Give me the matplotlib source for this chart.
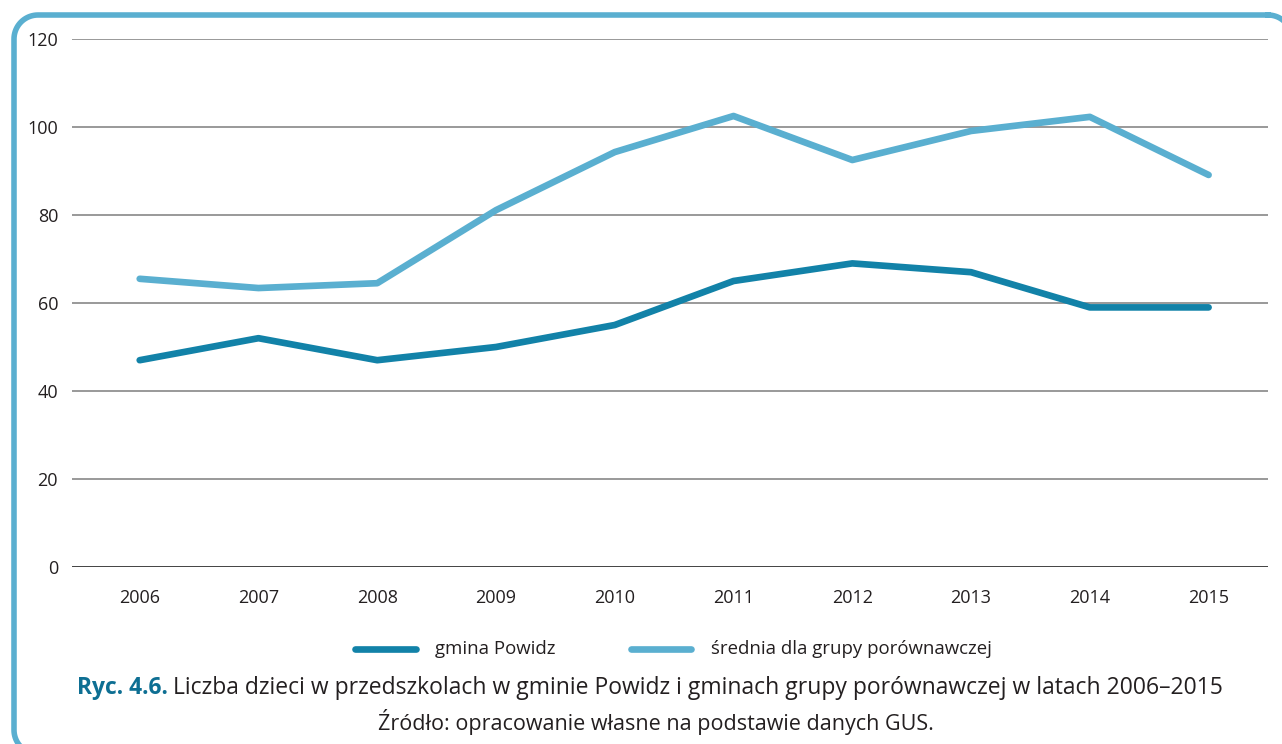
import math
import matplotlib
matplotlib.use("Agg")
import matplotlib.pyplot as plt
from matplotlib.lines import Line2D

years = ["2006", "2007", "2008", "2009", "2010", "2011", "2012", "2013", "2014", "2015"]
powidz = [47, 52, 47, 50, 55, 65, 69, 67, 59, 59]
srednia = [65.5, 63.4, 64.5, 81.1, 94.3, 102.5, 92.5, 99.1, 102.3, 89.1]
yticks = [0, 20, 40, 60, 80, 100, 120]

dark = "#1282a8"
light = "#5aafd0"
text_c = "#231f20"
plt.rcParams['font.family'] = ['Open Sans', 'DejaVu Sans']

W, H = 1282, 744
fig = plt.figure(figsize=(W / 100, H / 100), dpi=100)

# rounded frame in pixel coordinates
bg = fig.add_axes([0, 0, 1, 1])
bg.set_xlim(0, W)
bg.set_ylim(H, 0)
bg.axis("off")
L, T, R, B, r = 14, 15, 1292, 754, 24
corners = [(R - r, T + r, -90, 0), (R - r, B - r, 0, 90), (L + r, B - r, 90, 180), (L + r, T + r, 180, 270)]
fx_, fy_ = [], []
for cx, cy, a0, a1 in corners:
    for i in range(21):
        a = math.radians(a0 + (a1 - a0) * i / 20)
        fx_.append(cx + r * math.cos(a))
        fy_.append(cy + r * math.sin(a))
fx_.append(fx_[0]); fy_.append(fy_[0])
bg.plot(fx_, fy_, color=light, lw=4, clip_on=False, solid_joinstyle="round")

ax = fig.add_axes([72 / W, (H - 567) / H, (1268 - 72) / W, (567 - 39) / H])
x = list(range(len(years)))
ax.plot(x, powidz, color=dark, lw=4.8, solid_capstyle="round", solid_joinstyle="round", zorder=3)
ax.plot(x, srednia, color=light, lw=4.8, solid_capstyle="round", solid_joinstyle="round", zorder=3)
ax.set_ylim(0, 120)
ax.set_xlim(-0.57, 9.5)
ax.set_yticks(yticks)
for t in yticks:
    ax.axhline(t, color="#222222" if t == 0 else "#888888", lw=1.2, zorder=1)
ax.set_xticks(x)
ax.set_xticklabels(years)
ax.tick_params(length=0, labelsize=13, colors=text_c)
ax.tick_params(axis="x", pad=16)
ax.tick_params(axis="y", pad=10)
for s in ax.spines.values():
    s.set_visible(False)
ax.set_facecolor("none")

# legend
def fx(px): return px / W
def fy(py): return 1 - py / H
fig.add_artist(Line2D([fx(355), fx(416)], [fy(649), fy(649)], color=dark, lw=4.8, solid_capstyle="round"))
fig.text(fx(435), fy(649), "gmina Powidz", fontsize=13.4, va="center", color=text_c)
fig.add_artist(Line2D([fx(631), fx(691)], [fy(649), fy(649)], color=light, lw=4.8, solid_capstyle="round"))
fig.text(fx(711), fy(649), "średnia dla grupy porównawczej", fontsize=13.4, va="center", color=text_c)

# caption
cap_y = fy(688)
t1 = fig.text(fx(77), cap_y, "Ryc. 4.6.", fontsize=16.5, fontweight="bold", color="#0e6f93", va="center")
fig.canvas.draw()
bb = t1.get_window_extent()
fig.text((bb.x1 + 5) / W, cap_y,
         "Liczba dzieci w przedszkolach w gminie Powidz i gminach grupy porównawczej w latach 2006–2015",
         fontsize=16.5, color=text_c, va="center")
fig.text(fx(656), fy(722), "Źródło: opracowanie własne na podstawie danych GUS.",
         fontsize=15.5, color=text_c, va="center", ha="center")

fig.savefig("out.png", dpi=100)
